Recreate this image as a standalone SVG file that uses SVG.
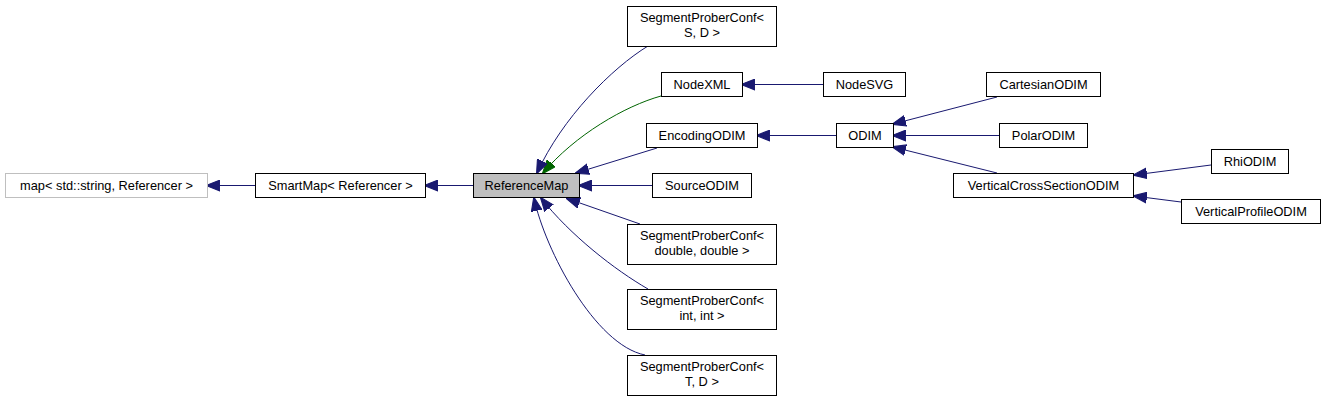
<svg xmlns="http://www.w3.org/2000/svg" width="1325" height="401" viewBox="0 0 1325 401">
<defs>
<marker id="ab" markerUnits="userSpaceOnUse" markerWidth="14" markerHeight="12" viewBox="0 0 13 10" refX="12" refY="5" orient="auto"><path d="M0,0 L13,5 L0,10 z" fill="#191970" stroke="#191970"/></marker>
<marker id="ag" markerUnits="userSpaceOnUse" markerWidth="14" markerHeight="12" viewBox="0 0 13 10" refX="12" refY="5" orient="auto"><path d="M0,0 L13,5 L0,10 z" fill="#006400" stroke="#006400"/></marker>
</defs>
<style>
.n rect{fill:#fff;stroke:#000;stroke-width:1}
.n text{font-family:"Liberation Sans",Arial,sans-serif;font-size:12.8px;fill:#000;text-anchor:middle}
.g rect{stroke:#bfbfbf}
.hl rect{fill:#bfbfbf}
.e path{fill:none;stroke:#191970;stroke-width:1;marker-end:url(#ab)}
.e path.gr{stroke:#006400;marker-end:url(#ag)}
</style>
<g id="edges" class="e">
<path d="M255,185.5 L207,185.5"/>
<path d="M473,185.5 L425,185.5"/>
<path d="M652,185.5 L579,185.5"/>
<path d="M657,148 L576,173"/>
<path class="gr" d="M661,96 C625,106 575,135 543,173"/>
<path d="M648,46 C612,68 562,118 537,173"/>
<path d="M640,224 L567,198.5"/>
<path d="M648,289 C615,270 570,235 541,198"/>
<path d="M645,355 C595,345 545,250 534,198"/>
<path d="M823,84.5 L742,84.5"/>
<path d="M836,135.5 L757,135.5"/>
<path d="M997,97 L893,124"/>
<path d="M999,135.5 L893,135.5"/>
<path d="M997,173 L893,147"/>
<path d="M1211,165 L1134,175"/>
<path d="M1181,202 L1134,196"/>
</g>
<g id="map" class="n g"><rect x="5.5" y="173.5" width="202" height="24"/><text x="106.5" y="189.5">map&lt; std::string, Referencer &gt;</text></g>
<g id="SmartMap" class="n"><rect x="255.5" y="173.5" width="170" height="24"/><text x="340.5" y="189.5">SmartMap&lt; Referencer &gt;</text></g>
<g id="ReferenceMap" class="n hl"><rect x="473.5" y="173.5" width="106" height="24"/><text x="526.5" y="189.5">ReferenceMap</text></g>
<g id="SPC_SD" class="n"><rect x="627.5" y="6.5" width="149" height="40"/><text x="702" y="22">SegmentProberConf&lt;</text><text x="702" y="37">S, D &gt;</text></g>
<g id="NodeXML" class="n"><rect x="661.5" y="72.5" width="81" height="24"/><text x="702" y="88.5">NodeXML</text></g>
<g id="EncodingODIM" class="n"><rect x="646.5" y="123.5" width="111" height="24"/><text x="702" y="139.5">EncodingODIM</text></g>
<g id="SourceODIM" class="n"><rect x="652.5" y="173.5" width="99" height="24"/><text x="702" y="189.5">SourceODIM</text></g>
<g id="SPC_dd" class="n"><rect x="627.5" y="224.5" width="149" height="40"/><text x="702" y="240">SegmentProberConf&lt;</text><text x="702" y="255">double, double &gt;</text></g>
<g id="SPC_ii" class="n"><rect x="627.5" y="289.5" width="149" height="40"/><text x="702" y="305">SegmentProberConf&lt;</text><text x="702" y="320">int, int &gt;</text></g>
<g id="SPC_TD" class="n"><rect x="627.5" y="355.5" width="149" height="40"/><text x="702" y="371">SegmentProberConf&lt;</text><text x="702" y="386">T, D &gt;</text></g>
<g id="NodeSVG" class="n"><rect x="823.5" y="72.5" width="82" height="24"/><text x="864.5" y="88.5">NodeSVG</text></g>
<g id="ODIM" class="n"><rect x="836.5" y="123.5" width="57" height="24"/><text x="865" y="139.5">ODIM</text></g>
<g id="CartesianODIM" class="n"><rect x="986.5" y="72.5" width="114" height="24"/><text x="1043.5" y="88.5">CartesianODIM</text></g>
<g id="PolarODIM" class="n"><rect x="999.5" y="123.5" width="88" height="24"/><text x="1043.5" y="139.5">PolarODIM</text></g>
<g id="VerticalCrossSectionODIM" class="n"><rect x="953.5" y="173.5" width="180" height="24"/><text x="1043.5" y="189.5">VerticalCrossSectionODIM</text></g>
<g id="RhiODIM" class="n"><rect x="1211.5" y="149.5" width="77" height="24"/><text x="1250" y="165.5">RhiODIM</text></g>
<g id="VerticalProfileODIM" class="n"><rect x="1181.5" y="199.5" width="139" height="24"/><text x="1251" y="215.5">VerticalProfileODIM</text></g>
</svg>
